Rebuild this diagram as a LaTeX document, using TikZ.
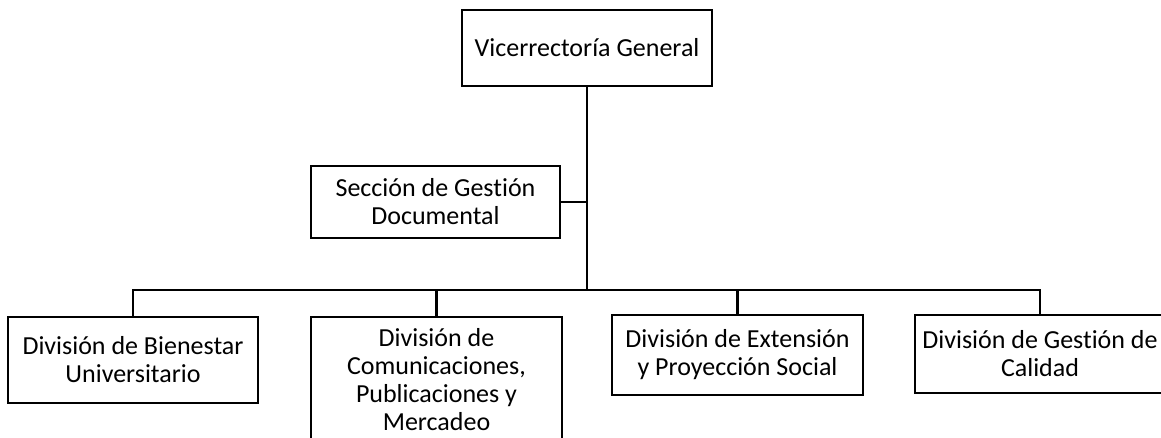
\documentclass[tikz,border=0pt]{standalone}
\usepackage{fontspec}
\setmainfont{Carlito}[Ligatures=NoCommon]
\begin{document}
\begin{tikzpicture}[x=1pt,y=-1pt,
  box/.style={draw=black, line width=2.4pt, align=center, inner sep=0pt,
    font=\fontsize{26}{28}\selectfont},
  conn/.style={draw=black, line width=2.4pt}]
\useasboundingbox (0,0) rectangle (1161,438);
\clip (0,0) rectangle (1161,438);
\node[box, minimum width=250pt, minimum height=76pt] (top) at (587,48) {Vicerrectoría General};
\node[box, minimum width=249pt, minimum height=72pt] (sec) at (435.5,202) {Sección de Gestión\\Documental};
\node[box, minimum width=250pt, minimum height=86pt] (d1) at (133,360) {División de Bienestar\\Universitario};
\node[box, minimum width=251pt, minimum height=126pt] (d2) at (436.5,380) {División de\\Comunicaciones,\\Publicaciones y\\Mercadeo};
\node[box, minimum width=251pt, minimum height=80pt] (d3) at (737.5,355) {División de Extensión\\y Proyección Social};
\node[box, minimum width=250pt, minimum height=78pt] (d4) at (1040,354) {División de Gestión de\\Calidad};
\coordinate (bus) at (587,290);
\draw[conn] (top.south) -- (bus);
\draw[conn] (sec.east) -- (sec.east -| bus);
\draw[conn] (bus) -| (d1.north);
\draw[conn] (bus) -| (d2.north);
\draw[conn] (bus) -| (d3.north);
\draw[conn] (bus) -| (d4.north);
\end{tikzpicture}
\end{document}
